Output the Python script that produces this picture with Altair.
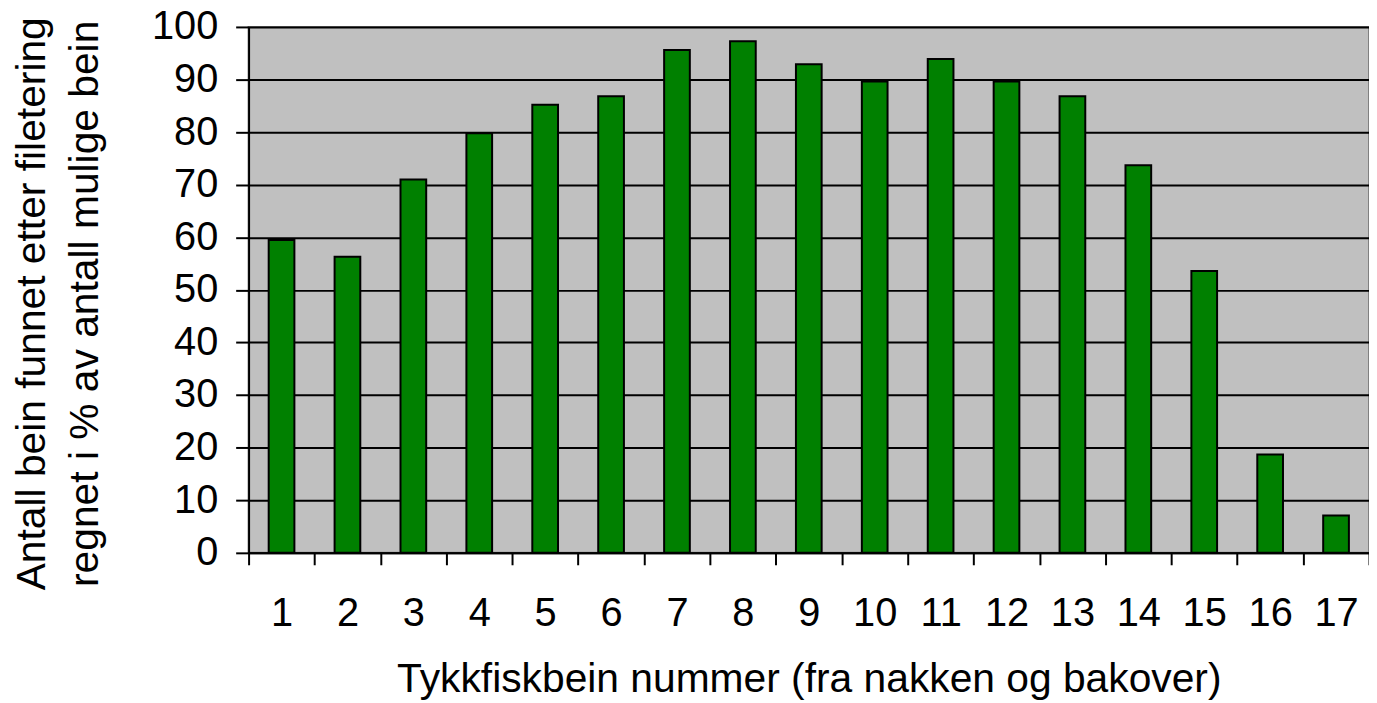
import altair as alt
import pandas as pd

bones = [str(i) for i in range(1, 18)]
percent = [59.5, 56.3, 71.0, 79.8, 85.2, 86.8, 95.6, 97.3, 92.9, 89.6,
           93.9, 89.6, 86.8, 73.7, 53.6, 18.7, 7.1]
y_ticks = list(range(0, 101, 10))
x_title = "Tykkfiskbein nummer (fra nakken og bakover)"
y_title = ["Antall bein funnet etter filetering", "regnet i % av antall mulige bein"]

df = pd.DataFrame({"bone": bones, "percent": percent})

FONT = "Liberation Sans"

chart = alt.Chart(df).mark_bar(
    color="#008000", stroke="black", strokeWidth=2,
    width=alt.RelativeBandSize(0.39)
).encode(
    x=alt.X("bone:N", sort=bones,
            scale=alt.Scale(paddingInner=0, paddingOuter=0),
            axis=alt.Axis(title=x_title, labelAngle=0, tickBand="extent",
                          grid=False, domainColor="black", domainWidth=2,
                          tickColor="black", tickWidth=2, tickSize=12,
                          labelFont=FONT, labelFontSize=40, labelColor="black",
                          labelPadding=29, titleFont=FONT, titleFontSize=41,
                          titleFontWeight="normal", titleColor="black",
                          titlePadding=26)),
    y=alt.Y("percent:Q", scale=alt.Scale(domain=[0, 100], nice=False),
            axis=alt.Axis(title=y_title, values=y_ticks, grid=True,
                          gridColor="black", gridWidth=2, gridOpacity=1,
                          domainColor="black", domainWidth=2,
                          tickColor="black", tickWidth=2, tickSize=13,
                          labelFont=FONT, labelFontSize=40, labelColor="black",
                          labelPadding=18, titleFont=FONT, titleFontSize=41,
                          titleFontWeight="normal", titleColor="black",
                          titleLineHeight=54, titlePadding=45, titleY=278))
).properties(
    width=1127, height=529,
    autosize=alt.AutoSizeParams(type="none"),
    padding={"left": 242, "top": 17, "right": 0, "bottom": 149}
).configure_view(
    fill="#C0C0C0", stroke="#808080", strokeWidth=2
)

chart.save("out.html", embed_options={"renderer": "svg", "actions": False})
